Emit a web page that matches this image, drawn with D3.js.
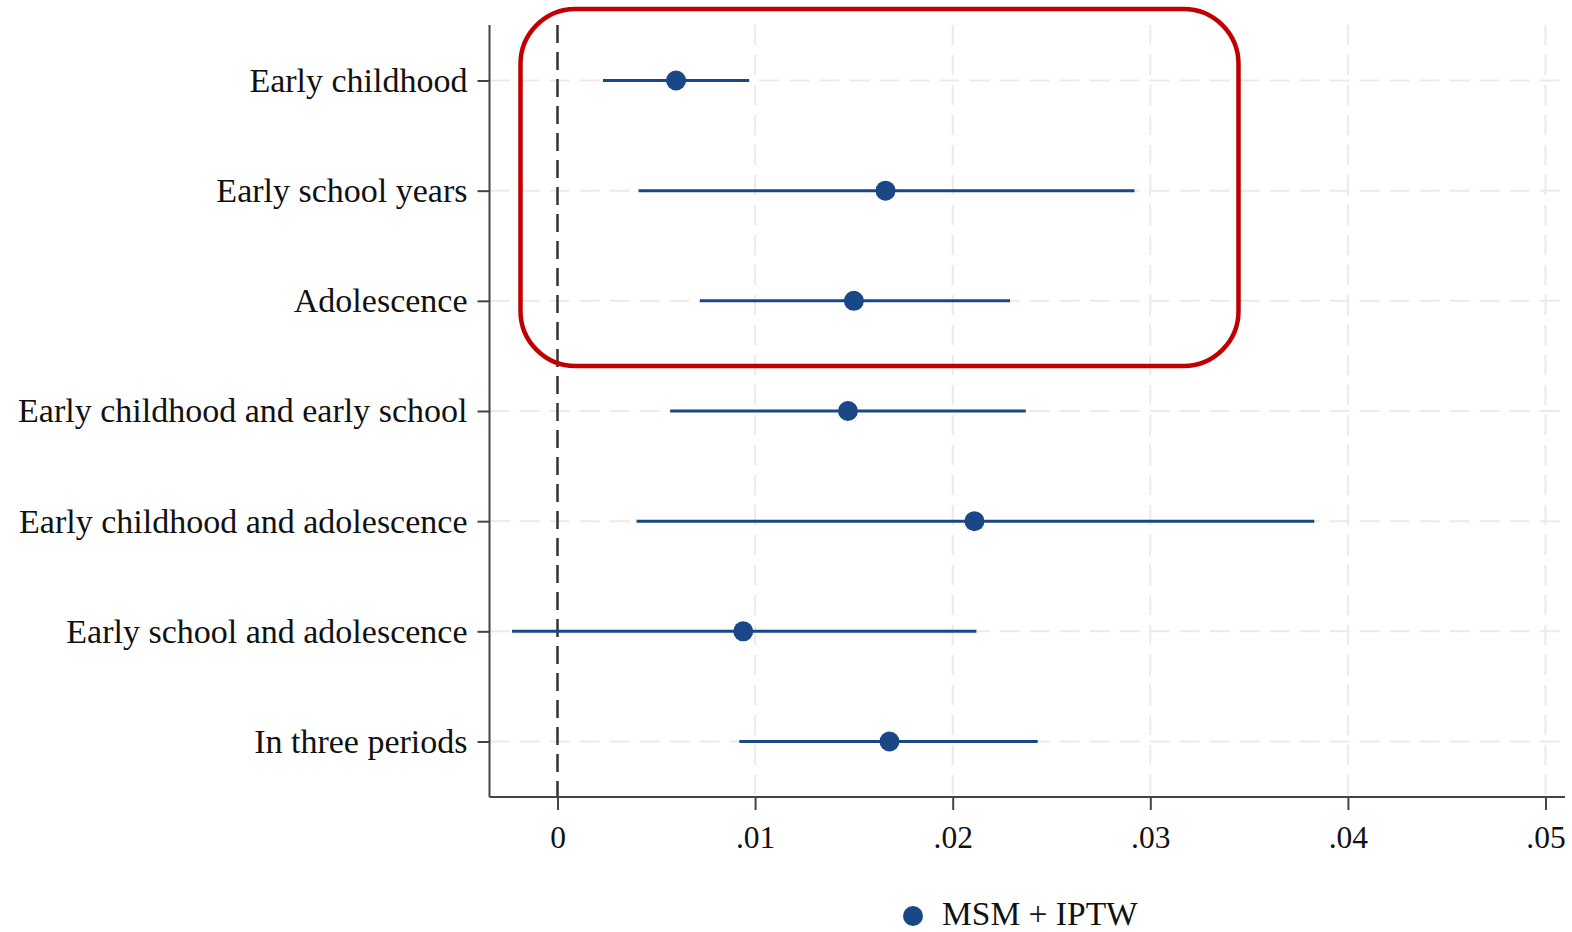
<!DOCTYPE html>
<html><head><meta charset="utf-8">
<script src="https://cdn.jsdelivr.net/npm/d3@7"></script>
<style>body{margin:0;background:#fff;} svg{display:block;}</style>
</head><body>
<script>
const categories = ["Early childhood","Early school years","Adolescence","Early childhood and early school","Early childhood and adolescence","Early school and adolescence","In three periods"];
const estimates = [0.0060, 0.0166, 0.0150, 0.0147, 0.0211, 0.0094, 0.0168];
const lower = [0.0023, 0.0041, 0.0072, 0.0057, 0.0040, -0.0023, 0.0092];
const upper = [0.0097, 0.0292, 0.0229, 0.0237, 0.0383, 0.0212, 0.0243];
const xTicks = [0, 0.01, 0.02, 0.03, 0.04, 0.05];
const xTickLabels = ["0", ".01", ".02", ".03", ".04", ".05"];
const legendLabel = "MSM + IPTW";

(function(){
const W = 1572, H = 932;
const svg = d3.select("body").append("svg").attr("width", W).attr("height", H);
const font = "'Liberation Serif','Times New Roman',serif";
const blue = "#1a4785";

const axisLeftX = 489.5, plotRight = 1565;
const x = d3.scaleLinear().domain([0, 0.05]).range([557.5, 1545.5]);
const y = d3.scalePoint().domain(categories).range([80.5, 741.5]);
const plotTop = 25, plotBottom = 797;

const g = svg.append("g");
g.selectAll("line.vg").data(xTicks.filter(d => d > 0)).join("line")
  .attr("x1", d => x(d)).attr("x2", d => x(d)).attr("y1", plotTop).attr("y2", plotBottom)
  .attr("stroke", "#eaeaea").attr("stroke-width", 2).attr("stroke-dasharray", "20,10");
g.selectAll("line.hg").data(categories).join("line")
  .attr("x1", axisLeftX).attr("x2", plotRight).attr("y1", d => y(d)).attr("y2", d => y(d))
  .attr("stroke", "#eaeaea").attr("stroke-width", 2).attr("stroke-dasharray", "20,10");

svg.append("line").attr("x1", x(0)).attr("x2", x(0)).attr("y1", plotTop).attr("y2", plotBottom)
  .attr("stroke", "#333").attr("stroke-width", 2.5).attr("stroke-dasharray", "18,9");

const xAxis = d3.axisBottom(x).tickValues(xTicks).tickFormat((d, i) => xTickLabels[i]).tickSize(13).tickPadding(16);
const xa = svg.append("g").attr("transform", `translate(0,${plotBottom})`).call(xAxis);
xa.select(".domain").attr("d", `M${axisLeftX},0H${plotRight}`).attr("stroke", "#444").attr("stroke-width", 2);
xa.selectAll(".tick line").attr("stroke", "#444").attr("stroke-width", 2);
xa.selectAll(".tick text").attr("font-family", font).attr("font-size", 31.5).attr("fill", "#111");

const yAxis = d3.axisLeft(y).tickSize(12).tickPadding(10);
const ya = svg.append("g").attr("transform", `translate(${axisLeftX},0)`).call(yAxis);
ya.select(".domain").attr("d", `M0,${plotTop}V${plotBottom}`).attr("stroke", "#444").attr("stroke-width", 2);
ya.selectAll(".tick line").attr("stroke", "#444").attr("stroke-width", 2);
ya.selectAll(".tick text").attr("font-family", font).attr("font-size", 34).attr("fill", "#111");

const rows = categories.map((c, i) => ({c, est: estimates[i], lo: lower[i], hi: upper[i]}));
svg.selectAll("line.ci").data(rows).join("line")
  .attr("x1", d => x(d.lo)).attr("x2", d => x(d.hi)).attr("y1", d => y(d.c)).attr("y2", d => y(d.c))
  .attr("stroke", blue).attr("stroke-width", 3);
svg.selectAll("circle.pt").data(rows).join("circle")
  .attr("cx", d => x(d.est)).attr("cy", d => y(d.c)).attr("r", 10).attr("fill", blue);

svg.append("circle").attr("cx", 913).attr("cy", 916).attr("r", 10).attr("fill", blue);
svg.append("text").attr("x", 942).attr("y", 925).attr("font-family", font).attr("font-size", 33.5).attr("fill", "#111").text(legendLabel);

svg.append("rect").attr("x", 520.5).attr("y", 9).attr("width", 718).attr("height", 357).attr("rx", 55).attr("ry", 55)
  .attr("fill", "none").attr("stroke", "#c00000").attr("stroke-width", 4.5);
})();
</script>
</body></html>
